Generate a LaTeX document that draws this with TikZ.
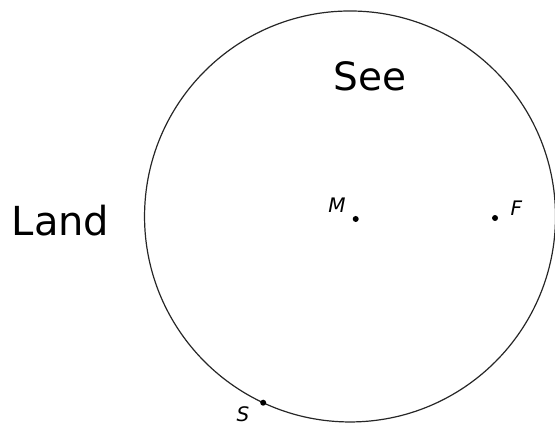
\documentclass[tikz,border=0pt]{standalone}
\usepackage{fontspec}
\setmainfont{DejaVu Sans}
\usepackage{tikz}
\usetikzlibrary{calc}

\begin{document}
\begin{tikzpicture}
  \useasboundingbox (0,0) rectangle (9.753,7.433);
  \clip (0,0) rectangle (9.753,7.433);
  \coordinate (C) at (6.151,3.629);
  \coordinate (M) at (6.251,3.585);
  \coordinate (F) at (8.699,3.602);
  \coordinate (S) at ($(C)+(245:3.611)$);
  \draw[line width=0.6pt, black!85] (C) circle (3.611);
  \fill (M) circle (1.5pt);
  \fill (F) circle (1.5pt);
  \fill (S) circle (1.5pt);
  \node (labM) at (5.922,3.822) {\fontsize{10}{12}\selectfont\itshape M};
  \node (labF) at (9.076,3.778) {\fontsize{10}{12}\selectfont\itshape F};
  \node (labS) at (4.270,0.149) {\fontsize{10}{12}\selectfont\itshape S};
  \node (see) at (6.502,6.098) {\fontsize{19.5}{23}\selectfont See};
  \node (land) at (1.063,3.552) {\fontsize{20}{24}\selectfont Land};
\end{tikzpicture}
\end{document}
